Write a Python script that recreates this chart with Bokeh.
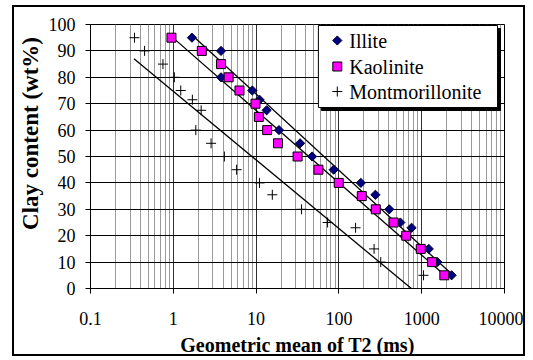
from bokeh.plotting import figure
from bokeh.models import Range1d, FixedTicker, Label
from bokeh.embed import file_html
from bokeh.resources import INLINE
import math

# ---- data ----
illite_x = [1.68, 3.77, 3.77, 9.0, 11.0, 13.4, 18.9, 34, 47.5, 86.5, 184, 276, 406, 552, 754, 1217, 1549, 2297]
illite_y = [95, 90, 80, 75, 71.5, 67.5, 60, 55, 50, 45, 40, 35.5, 30, 25, 23, 15, 10, 5]

kaolinite_x = [0.95, 2.21, 3.77, 4.66, 6.3, 9.84, 10.8, 13.6, 18.4, 31.7, 56.6, 99.5, 189, 279, 458, 651, 975, 1336, 1877]
kaolinite_y = [95, 90, 85, 80, 75, 70, 65, 60, 55, 50, 45, 40, 35, 30, 25, 20, 15, 10, 5]

mont_x = [0.34, 0.45, 0.75, 1.03, 1.23, 1.7, 2.17, 1.87, 2.86, 4.14, 5.82, 11, 15.7, 35.4, 73, 159, 266, 320, 1050]
mont_y = [95, 90, 85, 80, 75, 71.5, 67.5, 60, 55, 50, 45, 40, 35.5, 30, 25, 23, 15, 10, 5]

# trend lines (end points)
illite_fit_x = [1.68, 2300]
illite_fit_y = [96, 5.5]
kaolinite_fit_x = [0.95, 1900]
kaolinite_fit_y = [95.5, 5]
mont_fit_x = [0.335, 750]
mont_fit_y = [87, 0]

x_ticks = [0.1, 1, 10, 100, 1000, 10000]
x_tick_labels = ["0.1", "1", "10", "100", "1000", "10000"]
y_ticks = [0, 10, 20, 30, 40, 50, 60, 70, 80, 90, 100]

series_names = ["Illite", "Kaolinite", "Montmorillonite"]
x_title = "Geometric mean of T2 (ms)"
y_title = "Clay content (wt%)"

FONT = "Liberation Serif"
FRAME_W, FRAME_H = 416, 264
XMIN_LOG, XMAX_LOG = -1, 4


def fx(px):
    """frame pixel (from left) -> data x on the log axis"""
    return 10 ** (XMIN_LOG + (XMAX_LOG - XMIN_LOG) * px / FRAME_W)


def fy(py):
    """frame pixel (from top) -> data y"""
    return 100 * (1 - py / FRAME_H)


p = figure(width=513, height=351, x_axis_type="log",
           x_range=Range1d(0.1, 10000), y_range=Range1d(0, 100),
           output_backend="svg", toolbar_location=None,
           min_border_left=74, min_border_right=23,
           min_border_top=17, min_border_bottom=70)
p.styles = {"border": "2px solid black", "margin-left": "12px", "margin-top": "5px"}

p.background_fill_color = "white"
p.border_fill_color = "white"
p.outline_line_color = "black"
p.outline_line_width = 1

minor = [m * d for d in x_ticks[:-1] for m in range(2, 10)]
p.xaxis.ticker = FixedTicker(ticks=x_ticks, minor_ticks=minor)
p.yaxis.ticker = FixedTicker(ticks=y_ticks)
p.xaxis.major_label_overrides = {t: l for t, l in zip(x_ticks, x_tick_labels)}

p.xgrid.grid_line_color = "#303030"
p.xgrid.grid_line_width = 1
p.xgrid.minor_grid_line_color = "#9a9a9a"
p.xgrid.minor_grid_line_width = 1
p.ygrid.grid_line_color = "black"
p.ygrid.grid_line_width = 1

for ax in (p.xaxis, p.yaxis):
    ax.axis_line_color = "black"
    ax.major_tick_line_color = "black"
    ax.major_tick_out = 5
    ax.major_tick_in = 0
    ax.minor_tick_line_color = None
    ax.major_label_text_font = FONT
    ax.major_label_text_font_size = "18px"
    ax.major_label_text_color = "black"
    ax.axis_label_text_font = FONT
    ax.axis_label_text_font_size = "20px"
    ax.axis_label_text_font_style = "bold"
    ax.axis_label_text_color = "black"

p.xaxis.axis_label = x_title
p.xaxis.major_label_standoff = 18
p.xaxis.axis_label_standoff = 6
# leading no-break spaces lift the title a little above the frame centre, as in the reference
p.yaxis.axis_label = "\u00a0" * 8 + y_title
p.yaxis.axis_label_text_font_size = "23px"
p.yaxis.major_label_standoff = 10
p.yaxis.axis_label_standoff = 3

# trend lines
p.line(illite_fit_x, illite_fit_y, line_color="black", line_width=1.3)
p.line(kaolinite_fit_x, kaolinite_fit_y, line_color="black", line_width=1.3)
p.line(mont_fit_x, mont_fit_y, line_color="black", line_width=1.3)

ill_style = dict(marker="square", angle=math.pi / 4, size=6.5,
                 fill_color="#000080", line_color="#000030", line_width=1)
kao_style = dict(marker="square", size=9, fill_color="#FF00FF",
                 line_color="black", line_width=1)
mon_style = dict(marker="cross", size=10, line_color="black", line_width=1)

p.scatter(illite_x, illite_y, **ill_style)
p.scatter(kaolinite_x, kaolinite_y, **kao_style)
p.scatter(mont_x, mont_y, **mon_style)

# ---- hand-built legend box (frame pixel geometry) ----
LG_L, LG_T, LG_W, LG_H, SH = 229, 1, 180, 82, 3
p.quad(left=[fx(LG_L + SH)], right=[fx(LG_L + LG_W + SH)],
       top=[fy(LG_T + SH)], bottom=[fy(LG_T + LG_H + SH)],
       fill_color="black", line_color="black")
p.quad(left=[fx(LG_L)], right=[fx(LG_L + LG_W)],
       top=[fy(LG_T)], bottom=[fy(LG_T + LG_H)],
       fill_color="white", line_color="black", line_width=1)

item_py = [LG_T + 15, LG_T + 41, LG_T + 66]
glyph_px = LG_L + 19
text_px = LG_L + 31
for style, py in zip([ill_style, kao_style, mon_style], item_py):
    p.scatter([fx(glyph_px)], [fy(py)], **style)
for name, py in zip(series_names, item_py):
    p.add_layout(Label(x=fx(text_px), y=fy(py), text=name,
                       text_font=FONT, text_font_size="20px",
                       text_color="black", text_baseline="middle",
                       text_align="left"))

open("out.html", "w").write(file_html(p, INLINE))
